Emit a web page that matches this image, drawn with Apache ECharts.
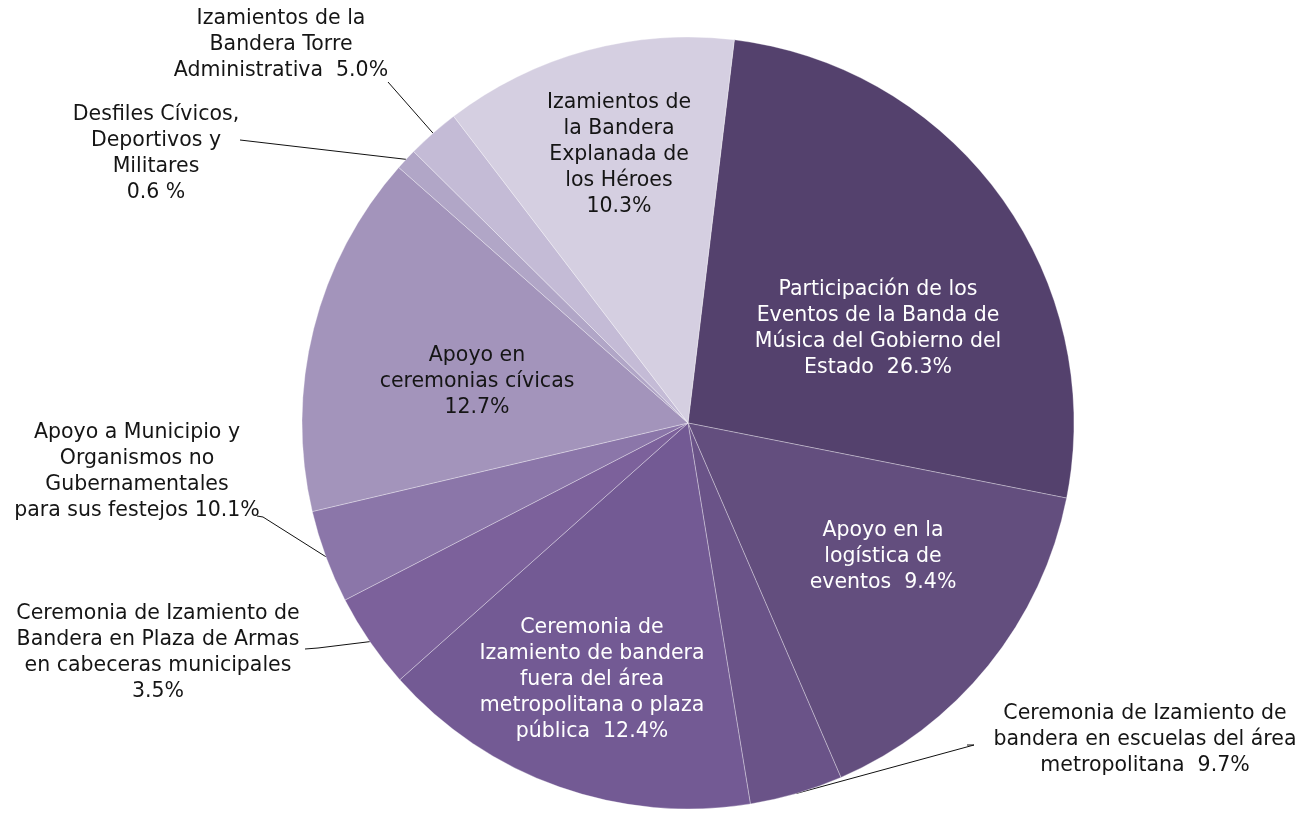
<!DOCTYPE html>
<html>
<head>
<meta charset="utf-8">
<script src="https://cdn.jsdelivr.net/npm/echarts@6/dist/echarts.min.js"></script>
<style>
  html, body { margin: 0; background: #fff; }
  #main { width: 1310px; height: 813px; }
</style>
</head>
<body>
<div id="main"></div>
<script>
// categories, in drawing order (clockwise from the top)
var categories = [
  'Participación de los\nEventos de la Banda de\nMúsica del Gobierno del\nEstado',
  'Apoyo en la\nlogística de\neventos',
  'Ceremonia de Izamiento de\nbandera en escuelas del área\nmetropolitana',
  'Ceremonia de\nIzamiento de bandera\nfuera del área\nmetropolitana o plaza\npública',
  'Ceremonia de Izamiento de\nBandera en Plaza de Armas\nen cabeceras municipales',
  'Apoyo a Municipio y\nOrganismos no\nGubernamentales\npara sus festejos',
  'Apoyo en\nceremonias cívicas',
  'Desfiles Cívicos,\nDeportivos y\nMilitares',
  'Izamientos de la\nBandera Torre\nAdministrativa',
  'Izamientos de\nla Bandera\nExplanada de\nlos Héroes'
];
// slice sizes as drawn (share of the circle)
var shares = [26.2, 15.4, 3.9, 16.0, 4.0, 3.9, 15.2, 0.9, 2.2, 12.3];
// percentages printed in the labels
var pctLabels = ['26.3%', '9.4%', '9.7%', '12.4%', '3.5%', '10.1%', '12.7%', '0.6 %', '5.0%', '10.3%'];
var pctSep = ['  ', '  ', '  ', '  ', '\n', ' ', '\n', '\n', '  ', '\n'];

var colors = ['#54416d', '#634e7e', '#6a5388', '#735a94', '#7c619b',
              '#8b76a9', '#a394bb', '#b1a6c7', '#c4bbd6', '#d5cfe1'];
var textColors = ['#fff', '#fff', '#151515', '#fff', '#151515', '#151515', '#151515', '#151515', '#151515', '#151515'];
var outside = [false, false, true, false, true, true, false, true, true, false];

// label placement: text block centre, and where the leader line meets the text
var labelSpots = [[878, 329], [883, 557], [1145, 740], [592, 680], [158, 653],
                  [137, 472], [477, 382], [156, 154], [281, 45], [619, 155]];
var lineTails = [null, null, [[967, 745], [974, 745]], null, [[305, 649], [318, 648]],
                 [[257, 516], [263, 517]], null, [[240, 140], [240, 140]], [[388, 82], [388, 82]], null];

var myChart = echarts.init(document.getElementById('main'));

var data = shares.map(function (v, i) {
  return {
    name: categories[i],
    value: v,
    itemStyle: { color: colors[i] },
    label: {
      position: outside[i] ? 'outside' : 'inside',
      color: textColors[i]
    },
    labelLine: { show: outside[i] }
  };
});

var option = {
  animation: false,
  series: [{
    type: 'pie',
    center: [688, 423],
    radius: [0, 386],
    startAngle: 83.1,
    clockwise: true,
    avoidLabelOverlap: false,
    itemStyle: { borderColor: 'rgba(255,255,255,0.45)', borderWidth: 0.7 },
    label: {
      fontFamily: 'DejaVu Sans',
      fontSize: 20.5,
      lineHeight: 26,
      align: 'center',
      overflow: 'none',
      formatter: function (p) {
        return categories[p.dataIndex] + pctSep[p.dataIndex] + pctLabels[p.dataIndex];
      }
    },
    labelLine: {
      lineStyle: { color: '#111', width: 1 },
      length: 10,
      length2: 10
    },
    labelLayout: function (p) {
      var i = p.dataIndex;
      var res = {
        x: labelSpots[i][0],
        y: labelSpots[i][1],
        align: 'center',
        verticalAlign: 'middle'
      };
      if (lineTails[i] && p.labelLinePoints) {
        res.labelLinePoints = [p.labelLinePoints[0], lineTails[i][1], lineTails[i][0]];
      }
      return res;
    },
    data: data
  }]
};

myChart.setOption(option);
</script>
</body>
</html>
